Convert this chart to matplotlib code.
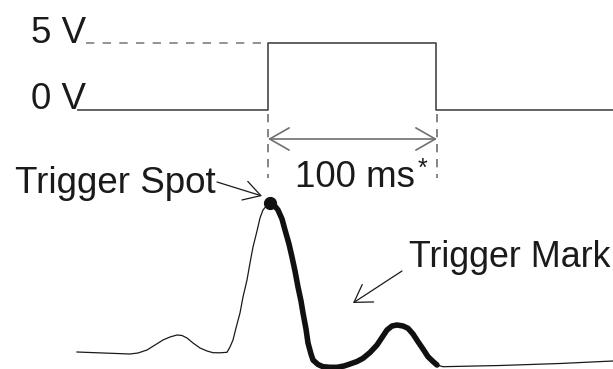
import matplotlib.pyplot as plt
from matplotlib.patches import FancyArrowPatch

# trigger pulse (time, level) in drawing units
pulse_t = [78, 268, 268, 436, 436, 613]
pulse_v = [110, 110, 43, 43, 110, 110]
level_labels = ["5 V", "0 V"]
level_y = [43, 109]

# ECG trace: thin part up to the R peak
ecg_pre_t = [77, 103, 130, 138, 147, 155, 163, 170, 177, 182, 187, 193, 200, 207, 213, 220, 227,
             230, 233, 236, 240, 243, 247, 250, 253, 257, 260, 263, 267, 270]
ecg_pre_v = [352, 353, 354, 353, 350, 345, 340, 337, 335, 335.5, 338, 343, 348, 351, 352.7, 352.8, 352.3,
             347, 340, 328, 313, 297, 280, 263, 247, 231, 218, 210, 205, 203]
# thick trigger mark section (R down-slope, S and T wave)
mark_t = [270, 274, 278, 282, 285, 289, 292, 295, 298, 301, 303, 306, 308, 311, 313, 318, 323, 330, 337,
          344, 350, 357, 363, 370, 377, 382, 387, 392, 397, 403, 408, 413, 418, 423, 428, 433, 437]
mark_v = [203, 205, 210, 219, 230, 244, 257, 271, 287, 301, 313, 329, 343, 354, 360, 364.5, 366.7, 367.3,
          367.3, 366, 364, 361.5, 358.3, 352.5, 345, 337.5, 330, 326, 325, 326, 328.3, 334, 341.7, 349, 356.7,
          361.5, 365]
# thin baseline after the T wave
ecg_post_t = [437, 443, 500, 560, 613]
ecg_post_v = [365, 366.7, 365.5, 363.5, 361]

fig = plt.figure(figsize=(6.13, 3.69), dpi=100)
ax = fig.add_axes([0, 0, 1, 1])
ax.set_xlim(0, 613)
ax.set_ylim(369, 0)
ax.axis('off')

font = dict(family='Liberation Sans', fontsize=26.5, color='#1a1a1a')

# pulse
ax.plot(pulse_t, pulse_v, color='#555555', lw=1.3)
ax.plot([86, 268], [43, 43], color='#808080', lw=1.2, dashes=(5, 5))
for lab, y in zip(level_labels, level_y):
    ax.text(31, y, lab, va='baseline', ha='left', **font)

# 100 ms marker
for x in [268, 437]:
    ax.plot([x, x], [114, 178], color='#707070', lw=1.2, dashes=(5, 4))
ax.add_patch(FancyArrowPatch((268, 139), (437, 139), arrowstyle='<->,head_length=14,head_width=8',
                             color='#707070', lw=1.2, shrinkA=0, shrinkB=0, mutation_scale=1))
ax.text(295, 187, "100 ms", va='baseline', ha='left', **font)
ax.text(418, 176, "*", va='baseline', ha='left', family='Liberation Sans', fontsize=18, color='#1a1a1a')

# ECG
ax.plot(ecg_pre_t, ecg_pre_v, color='#1a1a1a', lw=0.9, solid_joinstyle='round')
ax.plot(ecg_post_t, ecg_post_v, color='#1a1a1a', lw=0.9)
ax.plot(mark_t, mark_v, color='#111111', lw=4.0, solid_capstyle='round', solid_joinstyle='round')
ax.plot([mark_t[0]], [mark_v[0]], 'o', color='#111111', ms=8.5)

# annotations
ax.text(15, 193, "Trigger Spot", va='baseline', ha='left', **font)
ax.add_patch(FancyArrowPatch((217, 182), (262, 196), arrowstyle='->,head_length=12,head_width=7',
                             color='#1a1a1a', lw=0.9, shrinkA=0, shrinkB=0, mutation_scale=1))
ax.text(409, 267, "Trigger Mark", va='baseline', ha='left', family='Liberation Sans', fontsize=25.8,
        color='#1a1a1a')
ax.add_patch(FancyArrowPatch((402, 271), (353, 303), arrowstyle='->,head_length=12,head_width=7.5',
                             color='#1a1a1a', lw=0.9, shrinkA=0, shrinkB=0, mutation_scale=1))

fig.savefig('out.png', dpi=100)
